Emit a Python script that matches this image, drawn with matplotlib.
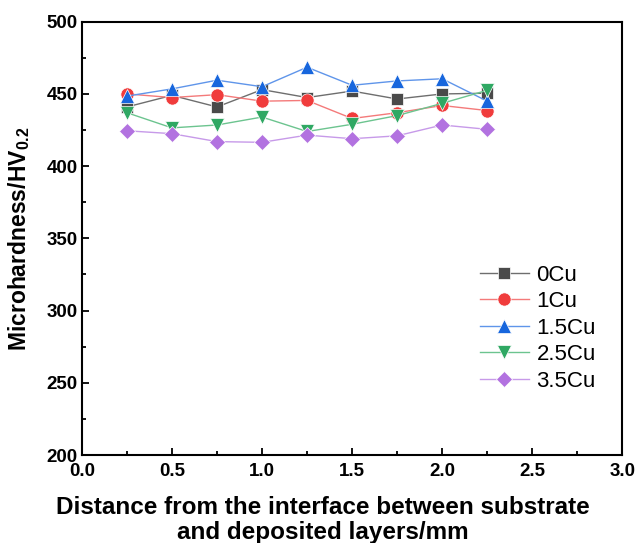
import matplotlib
matplotlib.use("Agg")
import matplotlib.pyplot as plt
from matplotlib.ticker import MultipleLocator

# distance from interface (mm)
distance = [0.25, 0.5, 0.75, 1.0, 1.25, 1.5, 1.75, 2.0, 2.25]

# microhardness HV0.2 for each Cu content
hv_0cu = [441, 449, 441, 453, 447.5, 452, 446.5, 450, 450.5]
hv_1cu = [450, 447.5, 449.5, 445, 445.5, 433, 437, 442, 438.5]
hv_15cu = [448.5, 453.5, 459.5, 455, 468.5, 456, 459, 460.5, 445]
hv_25cu = [437, 426.5, 428.5, 434, 424, 429, 435, 443.5, 452.5]
hv_35cu = [424.5, 422.5, 417, 416.5, 421.5, 419, 421, 428.5, 425.5]

labels = ["0Cu", "1Cu", "1.5Cu", "2.5Cu", "3.5Cu"]

plt.rcParams['font.family'] = ['Liberation Sans', 'DejaVu Sans']
plt.rcParams['mathtext.fontset'] = 'custom'
plt.rcParams['mathtext.rm'] = 'Liberation Sans'
plt.rcParams['mathtext.bf'] = 'Liberation Sans:bold'

fig = plt.figure(figsize=(6.35, 5.43), dpi=100)
ax = fig.add_axes([0.129, 0.162, 0.851, 0.798])

series = [hv_0cu, hv_1cu, hv_15cu, hv_25cu, hv_35cu]
markers = ['s', 'o', '^', 'v', 'D']
line_colors = ['#6e6e6e', '#f47a7a', '#5f95ea', '#6cc48f', '#c79ae9']
marker_colors = ['#4a4a4a', '#f03c3c', '#1766dd', '#2fa863', '#b272e0']
msizes = [8, 9.5, 10, 10, 8.5]

for vals, lab, m, lc, mc, ms in zip(series, labels, markers, line_colors, marker_colors, msizes):
    ax.plot(distance, vals, color=lc, lw=1.0, marker=m, markersize=ms,
            markerfacecolor=mc, markeredgecolor='white', markeredgewidth=0.5,
            label=lab)

ax.set_xlim(0, 3.0)
ax.set_ylim(200, 500)
ax.xaxis.set_major_locator(MultipleLocator(0.5))
ax.xaxis.set_minor_locator(MultipleLocator(0.25))
ax.yaxis.set_major_locator(MultipleLocator(50))
ax.yaxis.set_minor_locator(MultipleLocator(25))
ax.tick_params(which='both', direction='in', width=1.3)
ax.tick_params(which='major', length=5, labelsize=13.5, pad=3)
ax.tick_params(axis='x', which='major', pad=6)
ax.tick_params(which='minor', length=3)
for t in ax.get_xticklabels() + ax.get_yticklabels():
    t.set_fontweight('bold')
for sp in ax.spines.values():
    sp.set_linewidth(1.5)

ax.set_ylabel(r"Microhardness/HV$_{\mathbf{0.2}}$", fontsize=16.5, fontweight='bold')
ax.yaxis.set_label_coords(-0.092, 0.5)
ax.set_xlabel("Distance from the interface between substrate\nand deposited layers/mm",
              fontsize=17.5, fontweight='bold', linespacing=1.12)
ax.xaxis.set_label_coords(0.445, -0.095)

ax.legend(loc='upper left', bbox_to_anchor=(0.72, 0.46), frameon=False,
          fontsize=16, handlelength=2.2, labelspacing=0.25, handletextpad=0.35,
          borderaxespad=0)

fig.savefig("out.png", dpi=100)
